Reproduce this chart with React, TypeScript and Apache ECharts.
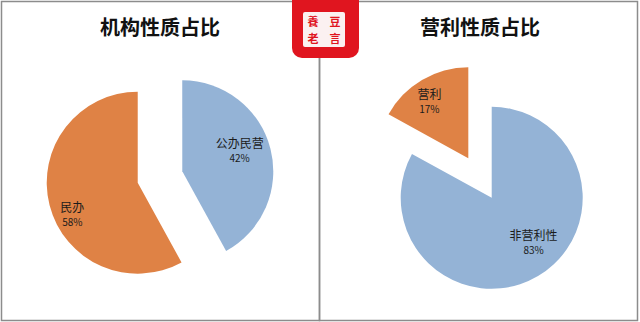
import React, { useEffect, useRef } from "react";
import * as echarts from "echarts";

// 机构性质
const orgNames = ["公办民营", "民办"];
const orgValues = [42, 58];
// 营利性质
const profitNames = ["非营利性", "营利"];
const profitValues = [83, 17];

const titles = ["机构性质占比", "营利性质占比"];

const BLUE = "#94B3D6";
const ORANGE = "#DF8245";
const FONT = '"Noto Sans CJK SC", "Noto Sans", sans-serif';

function buildData(names: string[], values: number[], colors: string[]) {
  return names.map((name, i) => ({
    name,
    value: values[i],
    selected: true,
    itemStyle: { color: colors[i] },
    select: { itemStyle: { color: colors[i] } },
  }));
}

// labelShift: small nudges of each slice label, in px
function pieSeries(
  center: [number, number],
  names: string[],
  values: number[],
  colors: string[],
  labelShift: [number, number][]
) {
  const base = {
    type: "pie",
    center,
    startAngle: 90,
    clockwise: true,
    selectedMode: "multiple",
    selectedOffset: 23,
    silent: true,
    labelLine: { show: false },
  };
  return [
    {
      ...base,
      radius: [0, 91],
      data: buildData(names, values, colors),
      label: { show: false },
    },
    {
      ...base,
      radius: [40, 91],
      data: buildData(names, values, ["transparent", "transparent"]),
      label: {
        show: true,
        position: "inside",
        formatter: "{n|{b}}\n{p|{d}%}",
        color: "#1b1b1b",
        rich: {
          n: { fontFamily: FONT, fontSize: 12, lineHeight: 16, color: "#1b1b1b" },
          p: { fontFamily: FONT, fontSize: 10, lineHeight: 14, color: "#1b1b1b" },
        },
      },
      labelLayout: (p: any) => ({ dx: labelShift[p.dataIndex][0], dy: labelShift[p.dataIndex][1] }),
    },
  ];
}

// a single seal character
function badgeChar(x: number, y: number, ch: string) {
  return {
    type: "text",
    style: {
      x,
      y,
      text: ch,
      fill: "#E0151F",
      font: 'bold 11px "Noto Sans CJK TC"',
      align: "center",
      verticalAlign: "middle",
    },
  };
}

export default function App() {
  const ref = useRef<HTMLDivElement>(null);

  useEffect(() => {
    document.body.style.margin = "0";
    if (!ref.current) return;
    const chart = echarts.init(ref.current, undefined, { renderer: "svg" });
    const titleFont = `bold 20px ${FONT}`;
    chart.setOption({
      animation: false,
      backgroundColor: "#ffffff",
      graphic: [
        // panel frames
        {
          type: "rect",
          shape: { x: 1.5, y: 1.5, width: 318, height: 319 },
          style: { fill: "none", stroke: "#8c8c8c", lineWidth: 1.5 },
          z: 0,
        },
        {
          type: "rect",
          shape: { x: 319.5, y: 1.5, width: 318, height: 319 },
          style: { fill: "none", stroke: "#8c8c8c", lineWidth: 1.5 },
          z: 0,
        },
        {
          type: "text",
          style: { x: 160, y: 26, text: titles[0], font: titleFont, fill: "#111", align: "center", verticalAlign: "middle" },
        },
        {
          type: "text",
          style: { x: 480, y: 26, text: titles[1], font: titleFont, fill: "#111", align: "center", verticalAlign: "middle" },
        },
        // badge
        {
          type: "group",
          z: 10,
          children: [
            {
              type: "rect",
              shape: { x: 292, y: 0, width: 67, height: 58, r: [0, 0, 10, 10] },
              style: { fill: "#E0151F" },
            },
            {
              type: "rect",
              shape: { x: 303, y: 12, width: 42, height: 35, r: 2 },
              style: { fill: "#FBF1F1" },
            },
            badgeChar(313, 21, "養"),
            badgeChar(313, 38, "老"),
            badgeChar(335, 21, "豆"),
            badgeChar(335, 38, "言"),
          ],
        },
      ],
      series: [
        ...pieSeries([160, 177], orgNames, orgValues, [BLUE, ORANGE], [[-9, -5], [1, 14]]),
        ...pieSeries([480, 178], profitNames, profitValues, [BLUE, ORANGE], [[7, -15], [-4, 1]]),
      ],
    });
    return () => chart.dispose();
  }, []);

  return <div ref={ref} style={{ width: 640, height: 322 }} />;
}
